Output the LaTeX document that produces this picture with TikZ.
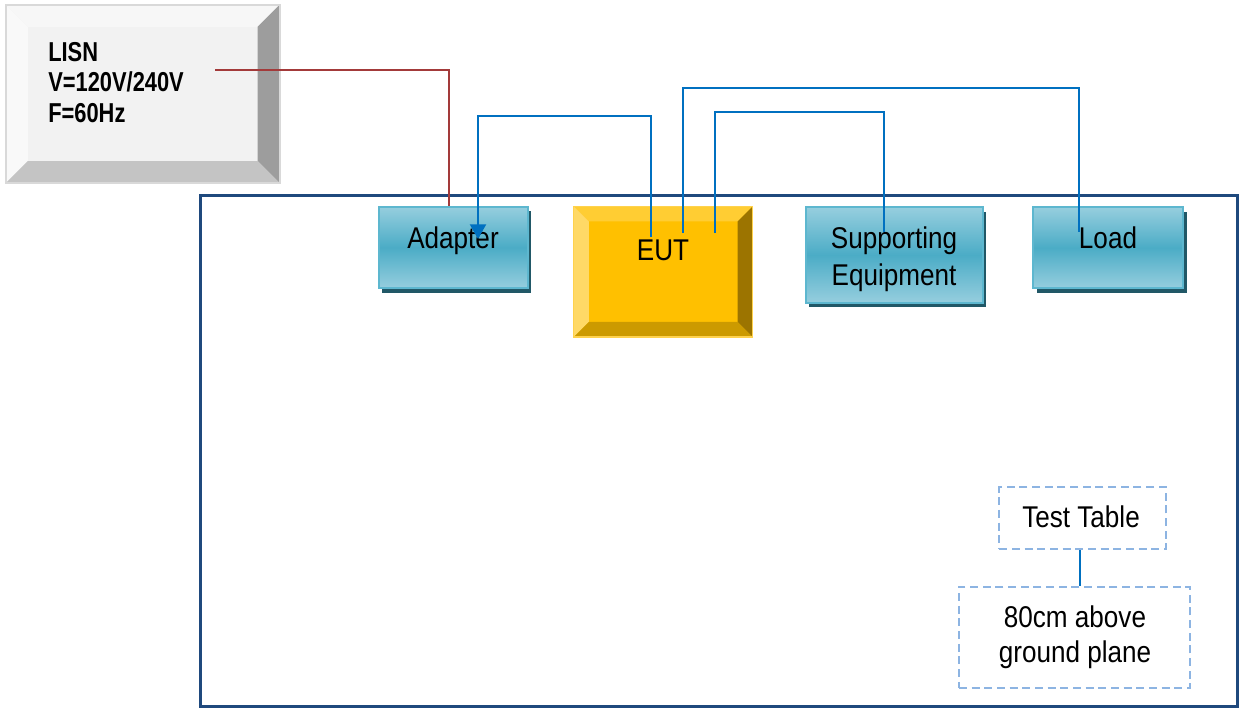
\documentclass[tikz,border=0pt]{standalone}
\usepackage{fontspec}
\setmainfont{Liberation Sans}
\newfontfamily\labelfont[FakeStretch=0.87]{Liberation Sans}
\newfontfamily\lisnfont[FakeStretch=0.8]{Liberation Sans}
\usetikzlibrary{calc,shadows,arrows.meta}

\definecolor{tealtop}{HTML}{96CEDE}
\definecolor{tealmid}{HTML}{4BACC6}
\definecolor{tealedge}{HTML}{5DB7CF}
\definecolor{tealshadow}{HTML}{215867}
\definecolor{eutface}{HTML}{FFC000}
\definecolor{euttop}{HTML}{FFCD33}
\definecolor{eutleft}{HTML}{FFD966}
\definecolor{eutright}{HTML}{9C7400}
\definecolor{eutbottom}{HTML}{CC9A00}
\definecolor{eutedge}{HTML}{FFD24D}
\definecolor{lisnface}{HTML}{F2F2F2}
\definecolor{lisntop}{HTML}{F7F7F7}
\definecolor{lisnleft}{HTML}{F9F9F9}
\definecolor{lisnright}{HTML}{9D9D9D}
\definecolor{lisnbottom}{HTML}{C4C4C4}
\definecolor{lisnedge}{HTML}{D9D9D9}
\definecolor{framecol}{HTML}{1F497D}
\definecolor{mainscol}{HTML}{A33A3A}
\definecolor{sigcol}{HTML}{0070C0}
\definecolor{dashcol}{HTML}{8DB4E2}

% four bevel faces of a raised box: node, depth, top, left, right, bottom
\newcommand\bevelfaces[6]{%
  \fill[#3] (#1.north west) -- (#1.north east) -- ($(#1.north east)+(-#2,#2)$) -- ($(#1.north west)+(#2,#2)$) -- cycle;
  \fill[#4] (#1.north west) -- ($(#1.north west)+(#2,#2)$) -- ($(#1.south west)+(#2,-#2)$) -- (#1.south west) -- cycle;
  \fill[#5] (#1.north east) -- (#1.south east) -- ($(#1.south east)+(-#2,-#2)$) -- ($(#1.north east)+(-#2,#2)$) -- cycle;
  \fill[#6] (#1.south west) -- ($(#1.south west)+(#2,-#2)$) -- ($(#1.south east)+(-#2,-#2)$) -- (#1.south east) -- cycle;
}

\tikzset{
  unitbox/.style={rectangle, inner sep=0pt, draw=tealedge, line width=1.5pt,
    top color=tealtop, bottom color=tealtop, middle color=tealmid,
    drop shadow={shadow xshift=2.5pt, shadow yshift=-3.5pt, fill=tealshadow, opacity=1}},
  notebox/.style={rectangle, inner sep=0pt, draw=dashcol, line width=1.4pt,
    dash pattern=on 6pt off 3.5pt},
  lbl/.style={inner sep=0pt, font=\labelfont\fontsize{22.5}{27.75}\selectfont, align=center},
  mains/.style={draw=mainscol, line width=1.5pt},
  sig/.style={draw=sigcol, line width=1.5pt},
}

\begin{document}
\begin{tikzpicture}[x=0.75pt, y=-0.75pt]
\useasboundingbox (0,0) rectangle (1239,708);
\fill[white] (0,0) rectangle (1239,708);

% LISN, a raised grey box
\node[rectangle, inner sep=0pt, fill=lisnface, minimum width=205pt, minimum height=133.3pt] (lisn) at (142.7,93.9) {};
\bevelfaces{lisn}{22}{lisntop}{lisnleft}{lisnright}{lisnbottom}
\draw[lisnedge, line width=1.5pt] (lisn.north west) rectangle (lisn.south east);
\node[inner sep=0pt, anchor=west, align=left, font=\lisnfont\bfseries\fontsize{20.5}{23}\selectfont] (lisntext) at (48,82.5) {LISN\\V=120V/240V\\F=60Hz};

% test table outline
\draw[framecol, line width=2.25pt] (200,195) rectangle (1237,706);

% units on the table
\node[unitbox, minimum width=112pt, minimum height=61.2pt] (adapter) at (453.3,247.5) {};
\node[lbl, anchor=base] (adapterlbl) at (453,248) {Adapter};

\node[rectangle, inner sep=0pt, fill=eutface, minimum width=133.7pt, minimum height=97.5pt] (eut) at (663.2,271.7) {};
\bevelfaces{eut}{15}{euttop}{eutleft}{eutright}{eutbottom}
\draw[eutedge, line width=1pt] (eut.north west) rectangle (eut.south east);
\node[lbl, anchor=base] (eutlbl) at (663,260) {EUT};

\node[unitbox, minimum width=132.75pt, minimum height=71.55pt] (support) at (894.2,255) {};
\node[lbl] (supportlbl) at (894,259.5) {Supporting\\Equipment};

\node[unitbox, minimum width=112.5pt, minimum height=60.75pt] (load) at (1108.3,247.8) {};
\node[lbl, anchor=base] (loadlbl) at (1108,248) {Load};

% notes
\node[notebox, minimum width=125pt, minimum height=46.5pt] (testtbl) at (1082.7,518.3) {};
\node[lbl, anchor=base] (testtbllbl) at (1081,527.3) {Test Table};
\node[notebox, minimum width=173.25pt, minimum height=76.2pt] (height) at (1074.5,637.5) {};
\node[lbl, font=\labelfont\fontsize{22.5}{26}\selectfont] (heightlbl) at (1075,637) {80cm above\\ground plane};
\draw[sig, line width=1.2pt] ([xshift=-2pt]testtbl.south) -- ([xshift=-2pt]testtbl.south |- height.north);

% wiring
\coordinate (lisnout) at (215,70);
\draw[mains] (lisnout) -| ($(adapter.north west)+(71,0)$);

\coordinate (eutA) at (651,237);
\coordinate (adA) at (478,239);
\draw[sig, -{Triangle[width=12pt,length=11pt]}] (eutA) -- (eutA |- 0,116) -| (adA);

\coordinate (eutL) at (683,233);
\coordinate (loadA) at (1079,232);
\draw[sig] (eutL) -- (eutL |- 0,88) -| (loadA);

\coordinate (eutS) at (715,233);
\coordinate (supA) at (884,232);
\draw[sig] (eutS) -- (eutS |- 0,112) -| (supA);
\end{tikzpicture}
\end{document}
